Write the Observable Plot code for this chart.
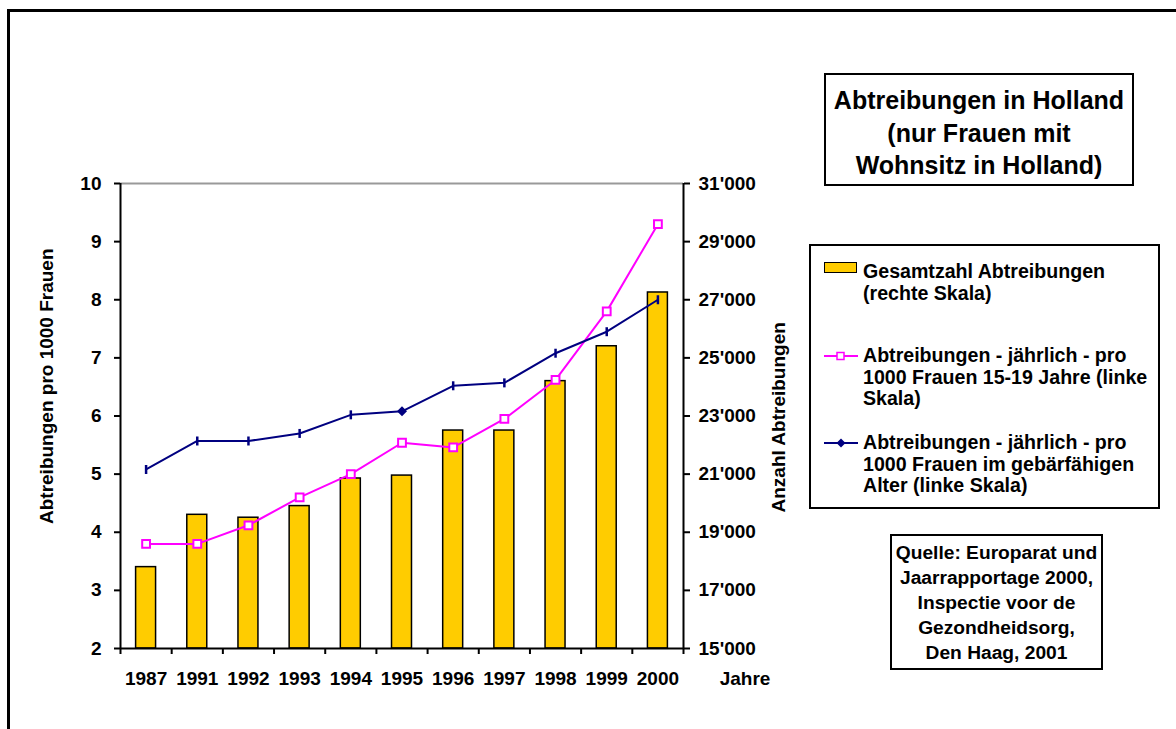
<!DOCTYPE html>
<html>
<head>
<meta charset="utf-8">
<script src="https://cdn.jsdelivr.net/npm/d3@7"></script>
<script src="https://cdn.jsdelivr.net/npm/@observablehq/plot@0.6"></script>
<style>
  html, body { margin: 0; padding: 0; background: #fff; }
  #page { position: relative; width: 1176px; height: 729px; overflow: hidden; background: #fff;
          font-family: "Liberation Sans", Arial, sans-serif; font-weight: bold; color: #000; }
  .abs { position: absolute; }
  .box { position: absolute; border: 2px solid #000; box-sizing: border-box; background: #fff; }
  .rot { position: absolute; transform: rotate(-90deg); white-space: nowrap;
         font-size: 19px; line-height: 24px; height: 24px; text-align: left; }
  .leg { position: absolute; left: 863px; font-size: 19.6px; line-height: 21.5px; white-space: nowrap; }
</style>
</head>
<body>
<div id="page">
  <div class="abs" style="left:7px;top:9px;width:3000px;height:3000px;border:3px solid #000;"></div>
  <div id="chart" class="abs" style="left:0;top:0;"></div>

  <div class="rot" id="ylabL" style="width:290px;left:-98px;top:367px;">Abtreibungen pro 1000 Frauen</div>
  <div class="rot" id="ylabR" style="width:205px;left:675.5px;top:397.5px;">Anzahl Abtreibungen</div>

  <div class="box" style="left:824px;top:73px;width:310px;height:113px;text-align:center;font-size:25px;line-height:32.5px;padding-top:9px;">
    Abtreibungen in Holland<br>(nur Frauen mit<br>Wohnsitz in Holland)
  </div>

  <div class="box" style="left:809px;top:244px;width:351px;height:265px;"></div>
  <div class="abs" style="left:824px;top:262px;width:33px;height:11px;background:#FFCC00;border:1.5px solid #000;box-sizing:border-box;"></div>
  <div class="leg" style="top:261px;">Gesamtzahl Abtreibungen<br>(rechte Skala)</div>
  <svg class="abs" style="left:822px;top:349px;" width="38" height="14">
    <line x1="2" y1="7" x2="36" y2="7" stroke="#FF00FF" stroke-width="2"/>
    <rect x="15" y="3.5" width="7" height="7" fill="#fff" stroke="#FF00FF" stroke-width="1.5"/>
  </svg>
  <div class="leg" style="top:345px;">Abtreibungen - jährlich - pro<br>1000 Frauen 15-19 Jahre (linke<br>Skala)</div>
  <svg class="abs" style="left:822px;top:436px;" width="38" height="14">
    <line x1="2" y1="7" x2="36" y2="7" stroke="#000080" stroke-width="2"/>
    <path d="M19,2.5L23.5,7L19,11.5L14.5,7Z" fill="#000080"/>
  </svg>
  <div class="leg" style="top:432px;">Abtreibungen - jährlich - pro<br>1000 Frauen im gebärfähigen<br>Alter (linke Skala)</div>

  <div class="box" style="left:890px;top:534px;width:213px;height:136px;text-align:center;font-size:19.2px;line-height:25px;padding-top:4px;">
    Quelle: Europarat und<br>Jaarrapportage 2000,<br>Inspectie voor de<br>Gezondheidsorg,<br>Den Haag, 2001
  </div>
</div>
<script>
const years = ["1987","1991","1992","1993","1994","1995","1996","1997","1998","1999","2000"];
const totalAbortions = [17800, 19600, 19500, 19900, 20850, 20950, 22500, 22500, 24200, 25400, 27250];
const rateTeen = [3.8, 3.8, 4.12, 4.6, 5.0, 5.54, 5.46, 5.95, 6.62, 7.8, 9.3];
const rateAll = [5.08, 5.57, 5.57, 5.7, 6.02, 6.08, 6.52, 6.57, 7.08, 7.45, 8.0];
const leftTicks = [2, 3, 4, 5, 6, 7, 8, 9, 10];
const rightTicks = [15000, 17000, 19000, 21000, 23000, 25000, 27000, 29000, 31000];
const diamondYear = "1995";

const rightMin = 15000, rightStep = 2000, leftMin = 2;
const toLeft = v => leftMin + (v - rightMin) / rightStep;
const fromLeft = d => rightMin + (d - leftMin) * rightStep;
const fmtRight = v => d3.format(",")(v).replace(/,/g, "'");

const data = years.map((year, i) => ({year, i, total: totalAbortions[i], teen: rateTeen[i], all: rateAll[i]}));
const boundaries = d3.range(years.length + 1);

const tickSymbol = { draw(ctx, size) { ctx.moveTo(0, -4.5); ctx.lineTo(0, 4.5); } };
const diamondSymbol = { draw(ctx, size) { ctx.moveTo(0, -5); ctx.lineTo(5, 0); ctx.lineTo(0, 5); ctx.lineTo(-5, 0); ctx.closePath(); } };

const chart = Plot.plot({
  width: 800,
  height: 729,
  marginLeft: 120,
  marginRight: 117,
  marginTop: 183,
  marginBottom: 81,
  style: { fontFamily: "'Liberation Sans', Arial, sans-serif", fontWeight: "bold", fontSize: "19px", color: "#000", background: "transparent", overflow: "visible" },
  x: { domain: [0, years.length], axis: null },
  y: { domain: [2, 10], axis: null },
  marks: [
    Plot.rectY(data, { x1: "i", x2: d => d.i + 1, y1: leftMin, y2: d => toLeft(d.total),
      insetLeft: 15.6, insetRight: 15.6, fill: "#FFCC00", stroke: "#000", strokeWidth: 1.5 }),
    Plot.ruleY([10], { stroke: "#999", strokeWidth: 2 }),
    Plot.ruleY([2], { stroke: "#000", strokeWidth: 2 }),
    Plot.ruleX([0, years.length], { stroke: "#000", strokeWidth: 2 }),
    Plot.axisY(leftTicks, { anchor: "left", tickSize: 6, tickPadding: 13, strokeWidth: 2,
      tickFormat: d => String(d), label: null }),
    Plot.axisY(rightTicks.map(toLeft), { anchor: "right", tickSize: 6, tickPadding: 9, strokeWidth: 2,
      tickFormat: d => fmtRight(Math.round(fromLeft(d))), label: null }),
    Plot.axisX(boundaries, { anchor: "bottom", tickSize: 6, strokeWidth: 2, tickFormat: () => "", label: null }),
    Plot.axisX(data.map(d => d.i + 0.5), { anchor: "bottom", tickSize: 0, tickPadding: 23,
      tickFormat: d => years[Math.floor(d)], label: null }),
    Plot.text(["Jahre"], { frameAnchor: "bottom-right", dx: 61.5, dy: 36, text: d => d, textAnchor: "middle" }),
    Plot.line(data, { x: d => d.i + 0.5, y: "teen", stroke: "#FF00FF", strokeWidth: 2 }),
    Plot.dot(data, { x: d => d.i + 0.5, y: "teen", symbol: "square", r: 4.4, fill: "#fff", stroke: "#FF00FF", strokeWidth: 2 }),
    Plot.line(data, { x: d => d.i + 0.5, y: "all", stroke: "#000080", strokeWidth: 2 }),
    Plot.dot(data.filter(d => d.year !== diamondYear), { x: d => d.i + 0.5, y: "all", symbol: tickSymbol, fill: "none", stroke: "#000080", strokeWidth: 2.5 }),
    Plot.dot(data.filter(d => d.year === diamondYear), { x: d => d.i + 0.5, y: "all", symbol: diamondSymbol, fill: "#000080", stroke: "none" })
  ]
});
document.getElementById("chart").appendChild(chart);
</script>
</body>
</html>
